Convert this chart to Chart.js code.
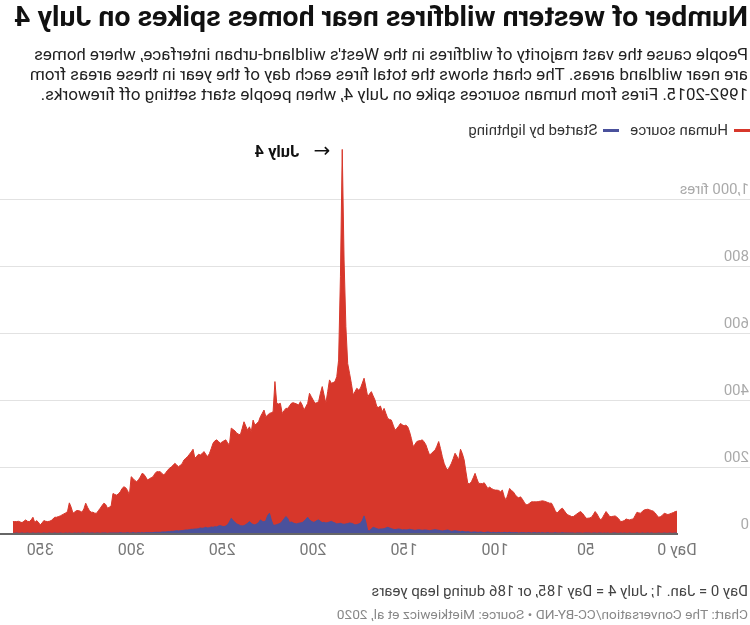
<!DOCTYPE html>
<html>
<head>
<meta charset="utf-8">
<script src="https://cdn.jsdelivr.net/npm/chart.js@4.4.1/dist/chart.umd.min.js"></script>
<style>
  html, body { margin: 0; padding: 0; background: #fff; }
  #page { position: relative; width: 750px; height: 625px; overflow: hidden; transform: scaleX(-1); font-family: Roboto, "Noto Sans", sans-serif; }
  #page canvas { position: absolute; left: 0; top: 0; }
  .title { position: absolute; left: 2px; top: 0; font-size: 28.5px; line-height: 34px; font-weight: 700; color: #111; white-space: nowrap; }
  .sub { position: absolute; left: 2px; top: 44px; font-size: 17px; line-height: 20px; color: #222; white-space: nowrap; }
  .legend { position: absolute; left: 0; top: 121px; font-size: 15px; color: #333; display: flex; align-items: center; white-space: nowrap; }
  .legend i { display: inline-block; width: 16px; height: 3px; margin-right: 6px; }
  .legend span { margin-right: 11px; }
  .note { position: absolute; left: 2px; top: 582px; font-size: 15px; color: #444; white-space: nowrap; }
  .src { position: absolute; left: 2px; top: 606px; font-size: 13.7px; color: #888; white-space: nowrap; }
</style>
</head>
<body>
<div id="page">
  <canvas id="c" width="750" height="625"></canvas>
  <div class="title">Number of western wildfires near homes spikes on July 4</div>
  <div class="sub">People cause the vast majority of wildfires in the West's wildland-urban interface, where homes<br>are near wildland areas. The chart shows the total fires each day of the year in these areas from<br>1992-2015. Fires from human sources spike on July 4, when people start setting off fireworks.</div>
  <div class="legend"><i style="background:#d7372b"></i><span>Human source</span><i style="background:#4a519c"></i><span>Started by lightning</span></div>
  <div class="note">Day 0 = Jan. 1; July 4 = Day 185, or 186 during leap years</div>
  <div class="src">Chart: The Conversation/CC-BY-ND • Source: Mietkiewicz et al, 2020</div>
</div>
<script>
// daily fire counts, day 0 .. 365
const human = [
  68, 67, 64, 62, 60, 58, 60, 62, 56, 52,
  50, 55, 63, 68, 70, 72, 74, 73, 72, 68,
  62, 63, 65, 55, 45, 44, 42, 43, 45, 40,
  38, 37, 45, 50, 54, 53, 52, 52, 60, 67,
  58, 48, 42, 50, 60, 67, 58, 50, 48, 47,
  47, 55, 62, 67, 64, 60, 56, 52, 52, 55,
  57, 62, 70, 77, 74, 68, 62, 70, 82, 92,
  92, 94, 96, 98, 99, 98, 97, 96, 96, 96,
  96, 92, 88, 87, 95, 104, 111, 108, 111, 118,
  126, 130, 136, 118, 101, 112, 131, 126, 130, 131,
  131, 133, 136, 140, 136, 145, 153, 150, 151, 151,
  165, 181, 168, 156, 150, 151, 185, 221, 240, 253,
  221, 232, 241, 225, 211, 200, 191, 198, 211, 231,
  255, 276, 262, 250, 246, 240, 236, 250, 266, 275,
  281, 279, 278, 276, 268, 261, 285, 305, 320, 325,
  323, 326, 330, 322, 315, 310, 325, 340, 342, 345,
  360, 375, 365, 382, 378, 380, 400, 412, 425, 418,
  410, 438, 465, 450, 435, 430, 435, 425, 415, 450,
  480, 509, 619, 818, 1148, 768, 519, 470, 455, 452,
  450, 460, 425, 390, 415, 440, 420, 395, 392, 390,
  400, 410, 420, 390, 380, 370, 385, 395, 385, 388,
  390, 392, 390, 382, 375, 375, 368, 360, 390, 388,
  390, 455, 365, 362, 360, 355, 350, 370, 360, 350,
  335, 330, 325, 340, 305, 320, 310, 322, 335, 315,
  296, 298, 301, 308, 312, 316, 266, 272, 281, 278,
  275, 271, 276, 281, 278, 271, 255, 240, 231, 238,
  246, 240, 236, 238, 232, 226, 253, 245, 238, 231,
  226, 221, 210, 205, 201, 206, 211, 205, 200, 196,
  190, 183, 176, 180, 186, 186, 186, 180, 171, 168,
  165, 161, 170, 178, 181, 170, 162, 156, 160, 166,
  171, 116, 130, 138, 141, 136, 126, 120, 116, 118,
  121, 84, 80, 77, 88, 92, 85, 77, 70, 62,
  62, 65, 65, 70, 80, 92, 75, 65, 68, 70,
  70, 66, 62, 80, 93, 67, 63, 60, 57, 54,
  52, 50, 50, 45, 40, 38, 37, 38, 40, 33,
  27, 35, 40, 34, 50, 42, 37, 38, 42, 38,
  34, 36, 38, 37, 37, 37
];
const lightning = [
  2, 3, 2, 2, 3, 2, 2, 3, 2, 2,
  3, 2, 2, 2, 3, 2, 3, 2, 2, 3,
  2, 2, 3, 2, 2, 2, 3, 2, 2, 3,
  2, 3, 2, 2, 3, 3, 2, 2, 3, 2,
  3, 2, 3, 3, 2, 3, 3, 2, 3, 3,
  3, 3, 2, 3, 3, 3, 2, 3, 3, 3,
  3, 3, 3, 4, 3, 3, 3, 4, 3, 3,
  3, 4, 3, 3, 4, 3, 4, 3, 4, 4,
  3, 4, 4, 3, 4, 4, 4, 3, 4, 4,
  4, 4, 5, 4, 4, 5, 4, 4, 5, 4,
  4, 5, 4, 5, 6, 5, 4, 5, 6, 5,
  5, 6, 6, 5, 6, 7, 6, 7, 8, 7,
  8, 9, 10, 9, 8, 10, 12, 11, 10, 9,
  10, 11, 12, 13, 12, 11, 10, 11, 12, 12,
  11, 12, 13, 12, 11, 12, 13, 14, 13, 12,
  13, 12, 14, 15, 14, 13, 14, 16, 18, 20,
  18, 16, 15, 15, 14, 16, 18, 20, 15, 10,
  10, 35, 54, 40, 32, 30, 28, 27, 30, 32,
  33, 31, 30, 29, 30, 32, 31, 30, 33, 35,
  38, 36, 34, 33, 35, 34, 38, 42, 40, 36,
  35, 38, 42, 50, 44, 38, 34, 33, 32, 30,
  31, 33, 36, 34, 47, 52, 45, 38, 32, 30,
  28, 26, 27, 42, 62, 55, 40, 36, 38, 42,
  34, 30, 27, 28, 32, 37, 32, 28, 25, 24,
  25, 28, 30, 35, 40, 47, 36, 28, 24, 22,
  23, 25, 24, 21, 22, 20, 21, 19, 18, 20,
  18, 17, 18, 16, 15, 15, 14, 14, 13, 12,
  12, 11, 10, 10, 9, 10, 9, 8, 8, 7,
  7, 6, 6, 6, 5, 5, 5, 5, 4, 4,
  4, 4, 4, 3, 4, 3, 4, 3, 3, 4,
  3, 3, 4, 3, 3, 3, 4, 3, 3, 3,
  3, 3, 3, 2, 3, 3, 3, 2, 3, 3,
  2, 3, 3, 2, 3, 2, 3, 3, 2, 3,
  2, 3, 2, 2, 3, 2, 3, 2, 2, 3,
  2, 2, 3, 2, 2, 3, 2, 2, 3, 2,
  2, 3, 2, 2, 3, 2, 2, 3, 2, 2,
  3, 2, 2, 3, 2, 2
];
const xTicks = [0, 50, 100, 150, 200, 250, 300, 350];
const yTicks = [0, 200, 400, 600, 800, 1000];
const spikeDay = 184;

const RED = "#d7372b", BLUE = "#4a519c";
const pts = arr => arr.map((v, i) => ({ x: i, y: v }));

// gridlines + inside y labels, zero line, July 4 note
const decor = {
  id: "decor",
  beforeDatasetsDraw(chart) {
    const { ctx, scales: { y } } = chart;
    ctx.save();
    ctx.font = "15px Roboto, sans-serif";
    ctx.textBaseline = "alphabetic";
    ctx.textAlign = "left";
    yTicks.forEach(v => {
      const py = Math.round(y.getPixelForValue(v)) + 0.5;
      if (v > 0) {
        ctx.strokeStyle = "#e2e2e2"; ctx.lineWidth = 1;
        ctx.beginPath(); ctx.moveTo(0, py); ctx.lineTo(750, py); ctx.stroke();
      }
      ctx.fillStyle = "#aaa";
      ctx.fillText(v === 1000 ? "1,000 fires" : String(v), 1, py - 6);
    });
    ctx.restore();
  },
  afterDatasetsDraw(chart) {
    const { ctx, chartArea, scales: { x, y } } = chart;
    ctx.save();
    const py = y.getPixelForValue(0);
    ctx.strokeStyle = "#666"; ctx.lineWidth = 2;
    ctx.beginPath(); ctx.moveTo(chartArea.left - 1, py); ctx.lineTo(750, py); ctx.stroke();
    const px = x.getPixelForValue(spikeDay);
    ctx.fillStyle = "#111";
    ctx.font = "20px 'DejaVu Sans', sans-serif";
    ctx.textBaseline = "middle";
    ctx.fillText("←", px + 12, 152);
    ctx.font = "bold 16.5px Roboto, sans-serif";
    ctx.fillText("July 4", px + 43, 153);
    ctx.restore();
  }
};

new Chart(document.getElementById("c"), {
  type: "line",
  data: {
    datasets: [
      { label: "Started by lightning", data: pts(lightning), order: 1, fill: "origin",
        backgroundColor: BLUE, borderColor: BLUE, borderWidth: 1, pointRadius: 0, tension: 0 },
      { label: "Human source", data: pts(human), order: 2, fill: "origin",
        backgroundColor: RED, borderColor: RED, borderWidth: 1, pointRadius: 0, tension: 0 },
    ],
  },
  options: {
    responsive: false, animation: false, devicePixelRatio: 1,
    layout: { padding: { left: 73, right: 2, top: 132, bottom: 61 } },
    plugins: { legend: { display: false }, tooltip: { enabled: false } },
    scales: {
      x: {
        type: "linear", min: 0, max: 371,
        afterBuildTicks: s => { s.ticks = xTicks.map(v => ({ value: v })); },
        afterFit: s => { s.height = 30; },
        grid: { display: false, drawTicks: false }, border: { display: false },
        ticks: { padding: 7, autoSkip: false, maxRotation: 0, color: "#777",
          font: { family: "Roboto", size: 16 }, callback: v => v === 0 ? "Day 0" : String(v) },
      },
      y: { display: false, min: 0, max: 1200 },
    },
  },
  plugins: [decor],
});
</script>
</body>
</html>
